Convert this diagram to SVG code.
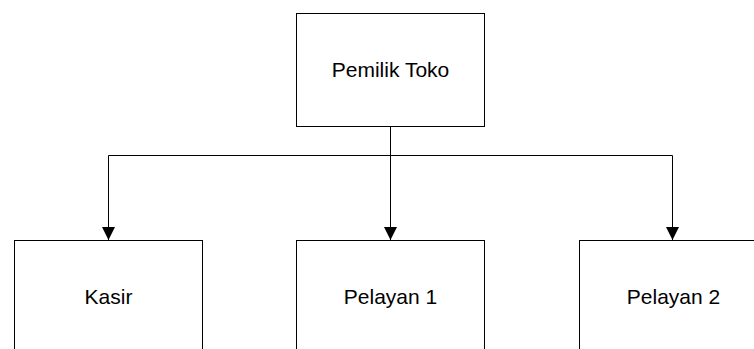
<svg xmlns="http://www.w3.org/2000/svg" width="754" height="349" viewBox="0 0 754 349">
  <style>
    .box { fill: #ffffff; stroke: #000000; stroke-width: 1; }
    .lbl { font-family: "Liberation Sans", Arial, sans-serif; font-size: 21px; fill: #000000; text-anchor: middle; }
    .con { fill: none; stroke: #000000; stroke-width: 1; }
  </style>
  <defs>
    <marker id="arr" markerUnits="userSpaceOnUse" markerWidth="14" markerHeight="14" refX="13" refY="6.5" orient="auto">
      <path d="M0,0 L13,6.5 L0,13 Z" fill="#000000"/>
    </marker>
  </defs>
  <rect width="754" height="349" fill="#ffffff"/>
  <g id="connectors">
    <path class="con" d="M390.5,126.5 V155.5"/>
    <path class="con" d="M108.5,155.5 H672.5"/>
    <path class="con" d="M108.5,155.5 V240" marker-end="url(#arr)"/>
    <path class="con" d="M390.5,155.5 V240" marker-end="url(#arr)"/>
    <path class="con" d="M672.5,155.5 V240" marker-end="url(#arr)"/>
  </g>
  <g id="pemilik-toko">
    <rect class="box" x="296.5" y="13.5" width="188" height="113"/>
    <text class="lbl" x="390.5" y="77">Pemilik Toko</text>
  </g>
  <g id="kasir">
    <rect class="box" x="14.5" y="240.5" width="188" height="120"/>
    <text class="lbl" x="108.5" y="304">Kasir</text>
  </g>
  <g id="pelayan-1">
    <rect class="box" x="296.5" y="240.5" width="188" height="120"/>
    <text class="lbl" x="390.5" y="304">Pelayan 1</text>
  </g>
  <g id="pelayan-2">
    <rect class="box" x="579.5" y="240.5" width="188" height="120"/>
    <text class="lbl" x="673.5" y="304">Pelayan 2</text>
  </g>
</svg>
